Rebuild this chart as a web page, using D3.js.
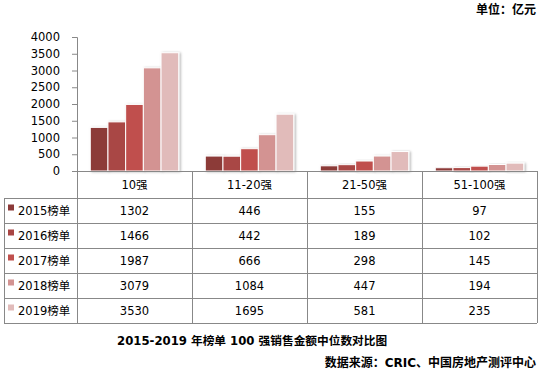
<!DOCTYPE html>
<html>
<head>
<meta charset="utf-8">
<script src="https://cdn.jsdelivr.net/npm/d3@7"></script>
<style>
  body { margin: 0; background: #fff; }
  text { font-family: "DejaVu Sans", "Noto Sans CJK SC", sans-serif; }
</style>
</head>
<body>
<script>
// ---------------- DATA ----------------
var categories = ['10强', '11-20强', '21-50强', '51-100强']
var seriesNames = ['2015榜单', '2016榜单', '2017榜单', '2018榜单', '2019榜单']
var values2015 = [1302, 446, 155, 97]
var values2016 = [1466, 442, 189, 102]
var values2017 = [1987, 666, 298, 145]
var values2018 = [3079, 1084, 447, 194]
var values2019 = [3530, 1695, 581, 235]
var yTicks = [0, 500, 1000, 1500, 2000, 2500, 3000, 3500, 4000]

var colors = ['#8c3a39', '#a94644', '#c0504d', '#d39392', '#e1bbba']
var allValues = [values2015, values2016, values2017, values2018, values2019]

// ---------------- SVG ----------------
var width = 546, height = 374
var svg = d3.select('body').append('svg')
  .attr('width', width).attr('height', height)

var defs = svg.append('defs')
var shadow = defs.append('filter').attr('id', 'shadow')
  .attr('x', '-20%').attr('y', '-20%').attr('width', '150%').attr('height', '150%')
shadow.append('feDropShadow')
  .attr('dx', 1.5).attr('dy', 0.5).attr('stdDeviation', 1)
  .attr('flood-color', '#000').attr('flood-opacity', 0.3)

// ---------------- SCALES ----------------
var plotLeft = 77, plotRight = 537, plotTop = 37, base = 171
var x0 = d3.scaleBand().domain(categories).range([plotLeft, plotRight])
var x1 = d3.scaleBand().domain(seriesNames).range([0, x0.bandwidth()]).paddingOuter(0.75)
var y = d3.scaleLinear().domain([0, 4000]).range([base, plotTop])

// ---------------- BARS ----------------
var bars = []
seriesNames.forEach(function (s, i) {
  categories.forEach(function (c, j) {
    bars.push({ series: s, cat: c, value: allValues[i][j], color: colors[i] })
  })
})

svg.append('g').selectAll('rect')
  .data(bars)
  .enter()
  .append('rect')
  .attr('x', d => x0(d.cat) + x1(d.series))
  .attr('y', d => y(d.value))
  .attr('width', x1.bandwidth())
  .attr('height', d => base - y(d.value))
  .attr('fill', d => d.color)
  .attr('stroke', '#fff')
  .attr('stroke-width', 1)
  .attr('filter', 'url(#shadow)')

// ---------------- Y AXIS ----------------
var yAxis = svg.append('g')
  .attr('transform', 'translate(' + plotLeft + ',0)')
  .call(d3.axisLeft(y).tickValues(yTicks).tickFormat(d3.format('d')).tickSize(5).tickPadding(12))
yAxis.select('.domain').attr('stroke', '#888')
yAxis.selectAll('.tick line').attr('stroke', '#888')
yAxis.selectAll('.tick text')
  .attr('font-size', 11.5)
  .attr('fill', '#000')
  .attr('font-family', '"DejaVu Sans", sans-serif')

// ---------------- TABLE ----------------
var headerBottom = 198, tableBottom = 323, tableLeft = 4
var rowY = d3.scaleBand().domain(seriesNames).range([headerBottom, tableBottom])
var grid = svg.append('g').attr('stroke', '#888').attr('stroke-width', 1).attr('shape-rendering', 'crispEdges')

// x axis / table top
grid.append('line').attr('x1', plotLeft).attr('x2', plotRight).attr('y1', base).attr('y2', base)
// horizontal lines
grid.selectAll('.hline')
  .data(seriesNames.concat(['end']))
  .enter()
  .append('line')
  .attr('x1', tableLeft).attr('x2', plotRight)
  .attr('y1', d => d === 'end' ? tableBottom : rowY(d))
  .attr('y2', d => d === 'end' ? tableBottom : rowY(d))
// vertical lines
var vx = categories.map(c => x0(c)).concat([plotRight])
grid.selectAll('.vline')
  .data(vx)
  .enter()
  .append('line')
  .attr('x1', d => d).attr('x2', d => d)
  .attr('y1', base).attr('y2', tableBottom)
grid.append('line').attr('x1', tableLeft).attr('x2', tableLeft)
  .attr('y1', headerBottom).attr('y2', tableBottom)

// header
svg.append('g').selectAll('text')
  .data(categories)
  .enter()
  .append('text')
  .attr('x', d => x0(d) + x0.bandwidth() / 2)
  .attr('y', (base + headerBottom) / 2 + 4)
  .attr('text-anchor', 'middle')
  .attr('font-size', 11.5)
  .text(d => d)

// row labels + swatches
var rows = svg.append('g').selectAll('g')
  .data(seriesNames)
  .enter()
  .append('g')
  .attr('transform', d => 'translate(0,' + (rowY(d) + rowY.bandwidth() / 2) + ')')
rows.append('rect')
  .attr('x', 8).attr('y', -6).attr('width', 6).attr('height', 6)
  .attr('fill', (d, i) => colors[i])
rows.append('text')
  .attr('x', 18).attr('y', 4)
  .attr('font-size', 11.5)
  .text(d => d)

// cell values
svg.append('g').selectAll('text')
  .data(bars)
  .enter()
  .append('text')
  .attr('x', d => x0(d.cat) + x0.bandwidth() / 2)
  .attr('y', d => rowY(d.series) + rowY.bandwidth() / 2 + 4)
  .attr('text-anchor', 'middle')
  .attr('font-size', 11.5)
  .text(d => d.value)

// ---------------- TEXTS ----------------
svg.append('text')
  .attr('x', 536).attr('y', 14)
  .attr('text-anchor', 'end')
  .attr('font-size', 12)
  .attr('font-weight', 'bold')
  .text('单位：亿元')

svg.append('text')
  .attr('x', 117).attr('y', 345)
  .attr('font-size', 11.7)
  .attr('font-weight', 'bold')
  .text('2015-2019 年榜单 100 强销售金额中位数对比图')

svg.append('text')
  .attr('x', 536).attr('y', 367)
  .attr('text-anchor', 'end')
  .attr('font-size', 12)
  .attr('font-weight', 'bold')
  .text('数据来源：CRIC、中国房地产测评中心')
</script>
</body>
</html>
